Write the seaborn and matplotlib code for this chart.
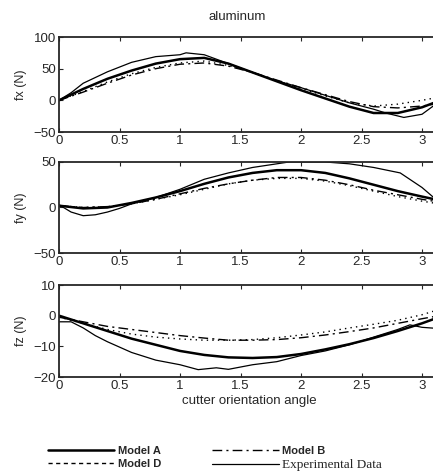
import matplotlib
matplotlib.use("Agg")
import matplotlib.pyplot as plt
import seaborn as sns
from matplotlib.lines import Line2D

# x positions (cutter orientation angle)
x_model = [0, 0.2, 0.4, 0.6, 0.8, 1.0, 1.2, 1.4, 1.6, 1.8, 2.0, 2.2, 2.4, 2.6, 2.8, 3.0, 3.14]

# fx (N)
fx_a = [0, 18, 34, 47, 58, 65, 67, 58, 44, 30, 16, 3, -10, -20, -20, -11, -1]
fx_b = [0, 13, 27, 40, 50, 57, 59, 54, 44, 32, 20, 9, -2, -10, -12, -9, -5]
fx_d = [0, 14, 29, 42, 52, 59, 62, 55, 44, 31, 19, 7, -4, -9, -6, 0, 5]
fx_exp_x = [0, 0.1, 0.2, 0.4, 0.6, 0.8, 1.0, 1.05, 1.2, 1.4, 1.6, 1.8, 2.0, 2.2, 2.4, 2.6, 2.7, 2.85, 3.0, 3.1, 3.14]
fx_exp = [0, 12, 27, 45, 60, 69, 72, 75, 72, 58, 44, 31, 20, 8, -4, -14, -20, -27, -22, -8, -2]

# fy (N)
fy_a = [2, -1, 0, 5, 11, 18, 26, 33, 38, 41, 41, 38, 32, 25, 18, 12, 8]
fy_b = [2, 0, 1, 4, 9, 15, 21, 26, 30, 33, 33, 30, 25, 19, 14, 9, 6]
fy_d = [2, 0, 1, 4, 9, 14, 20, 26, 30, 32, 32, 29, 24, 18, 12, 7, 4]
fy_exp_x = [0, 0.1, 0.2, 0.3, 0.4, 0.5, 0.6, 0.8, 1.0, 1.2, 1.4, 1.6, 1.8, 1.9, 2.2, 2.4, 2.6, 2.82, 3.0, 3.14]
fy_exp = [3, -5, -9, -8, -5, -1, 4, 11, 20, 31, 38, 44, 48, 50, 50, 48, 44, 38, 22, 6]

# fz (N)
fz_a = [0, -2.5, -5, -7.5, -9.5, -11.5, -12.8, -13.6, -13.8, -13.5, -12.5, -11, -9.3, -7.3, -5, -2.5, -0.5]
fz_b = [-0.5, -2, -3.5, -4.5, -5.5, -6.5, -7.3, -8, -8, -7.8, -7.2, -6.3, -5.2, -4, -2.5, -1, 0]
fz_d = [-0.5, -2.5, -4.5, -6, -7, -7.6, -8, -8, -7.8, -7.2, -6.3, -5.3, -4, -2.8, -1.5, 0.3, 2]
fz_exp_x = [0, 0.1, 0.2, 0.3, 0.4, 0.6, 0.8, 1.0, 1.15, 1.3, 1.4, 1.6, 1.8, 2.0, 2.2, 2.4, 2.6, 2.8, 2.9, 3.0, 3.14]
fz_exp = [-2, -2, -4, -6.5, -8.5, -12, -14.5, -16, -17.6, -17, -17.5, -16, -15, -13, -11.5, -9.5, -7, -4.5, -3, -3.8, -4.2]

panels = [
    ("fx (N)", fx_a, fx_b, fx_d, fx_exp_x, fx_exp, (-50, 100), [-50, 0, 50, 100]),
    ("fy (N)", fy_a, fy_b, fy_d, fy_exp_x, fy_exp, (-50, 50), [-50, 0, 50]),
    ("fz (N)", fz_a, fz_b, fz_d, fz_exp_x, fz_exp, (-20, 10), [-20, -10, 0, 10]),
]

sns.set_style("ticks")
plt.rcParams['font.family'] = ['Liberation Sans', 'DejaVu Sans']

style_a = dict(color="black", linewidth=1.8, linestyle="-")
style_b = dict(color="black", linewidth=1.0, linestyle=(0, (7, 3, 1.5, 3)))
style_d = dict(color="black", linewidth=1.0, linestyle=(0, (1, 3)))
style_exp = dict(color="black", linewidth=0.9, linestyle="-")

W, H = 433, 473
fig = plt.figure(figsize=(W / 100, H / 100), dpi=100)

# axes boxes in pixels: (top, bottom)
boxes = [(37, 132), (162, 253), (285, 377)]
left_px = 59
width_px = 121 * 3.1416

axes = []
for (top, bottom), (ylab, ya, yb, yd, ex, ey, ylim, yticks) in zip(boxes, panels):
    ax = fig.add_axes([left_px / W, 1 - bottom / H, width_px / W, (bottom - top) / H])
    sns.lineplot(x=x_model, y=ya, ax=ax, **style_a)
    sns.lineplot(x=x_model, y=yb, ax=ax, **style_b)
    sns.lineplot(x=x_model, y=yd, ax=ax, **style_d)
    sns.lineplot(x=ex, y=ey, ax=ax, **style_exp)
    ax.set_xlim(0, 3.1416)
    ax.set_ylim(*ylim)
    ax.set_yticks(yticks)
    ax.set_xticks([0, 0.5, 1, 1.5, 2, 2.5, 3])
    ax.set_xticklabels(["0", "0.5", "1", "1.5", "2", "2.5", "3"])
    ax.tick_params(direction="in", length=3, width=0.8, labelsize=9.5, pad=2,
                   top=True, right=True)
    for s in ax.spines.values():
        s.set_linewidth(1.3)
    ax.set_ylabel(ylab, fontsize=9, labelpad=5)
    ax.set_xlabel("")
    axes.append(ax)

axes[-1].set_xlabel("cutter orientation angle", fontsize=9.5, labelpad=2)
fig.text(237 / W, 1 - 17 / H, "aluminum", ha="center", va="center", fontsize=9.5)

handles = [
    Line2D([], [], **style_a),
    Line2D([], [], color="black", linewidth=1.0, linestyle=(0, (3, 2.5))),
    Line2D([], [], **style_b),
    Line2D([], [], **style_exp),
]
labels = ["Model A", "Model D", "Model B", "Experimental Data"]
leg = fig.legend(handles, labels, ncol=2, loc="upper left",
                 bbox_to_anchor=(42 / W, 1 - 440 / H), frameon=False,
                 fontsize=8, handlelength=6.0, handletextpad=0.3,
                 columnspacing=4.6, labelspacing=0.3, borderpad=0)
for t in leg.get_texts():
    t.set_fontweight("bold")
leg.get_texts()[3].set_family("Liberation Serif")
leg.get_texts()[3].set_fontweight("normal")
leg.get_texts()[3].set_fontsize(9.5)

fig.savefig("out.png", dpi=100)
